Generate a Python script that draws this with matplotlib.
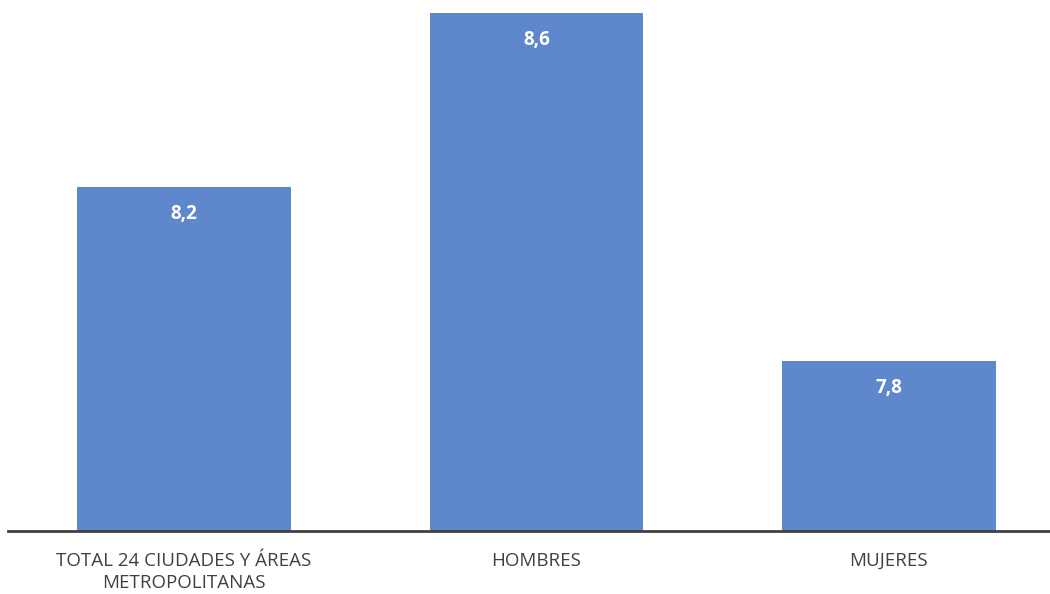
import matplotlib
matplotlib.use("Agg")
import matplotlib.pyplot as plt

categories = ["TOTAL 24 CIUDADES Y ÁREAS\nMETROPOLITANAS", "HOMBRES", "MUJERES"]
values = [8.2, 8.6, 7.8]
value_labels = ["8,2", "8,6", "7,8"]

plt.rcParams["font.family"] = ["Open Sans", "DejaVu Sans"]

fig = plt.figure(figsize=(10.5, 5.94), dpi=100)
ax = fig.add_axes([8 / 1050, 1 - 531 / 594, 1 - 8 / 1050, 531 / 594])

x = range(len(categories))
bars = ax.bar(x, values, width=0.605, color="#5F87CC", zorder=2)

ax.set_xlim(-0.499, 2.457)
ax.set_ylim(7.41, 8.63)

for bar, lab in zip(bars, value_labels):
    ax.annotate(lab, (bar.get_x() + bar.get_width() / 2, bar.get_height()),
                xytext=(0, -27), textcoords="offset pixels",
                ha="center", va="center", color="white",
                fontsize=13.5, fontweight="bold")

ax.set_xticks(list(x))
ax.set_xticklabels(categories, fontsize=13.5, color="#404040", linespacing=1.3)
ax.tick_params(axis="x", length=0, pad=15)
ax.set_yticks([])

for side in ["top", "right", "left"]:
    ax.spines[side].set_visible(False)
ax.spines["bottom"].set_color("#404040")
ax.spines["bottom"].set_linewidth(2)

fig.savefig("out.png", dpi=100)
